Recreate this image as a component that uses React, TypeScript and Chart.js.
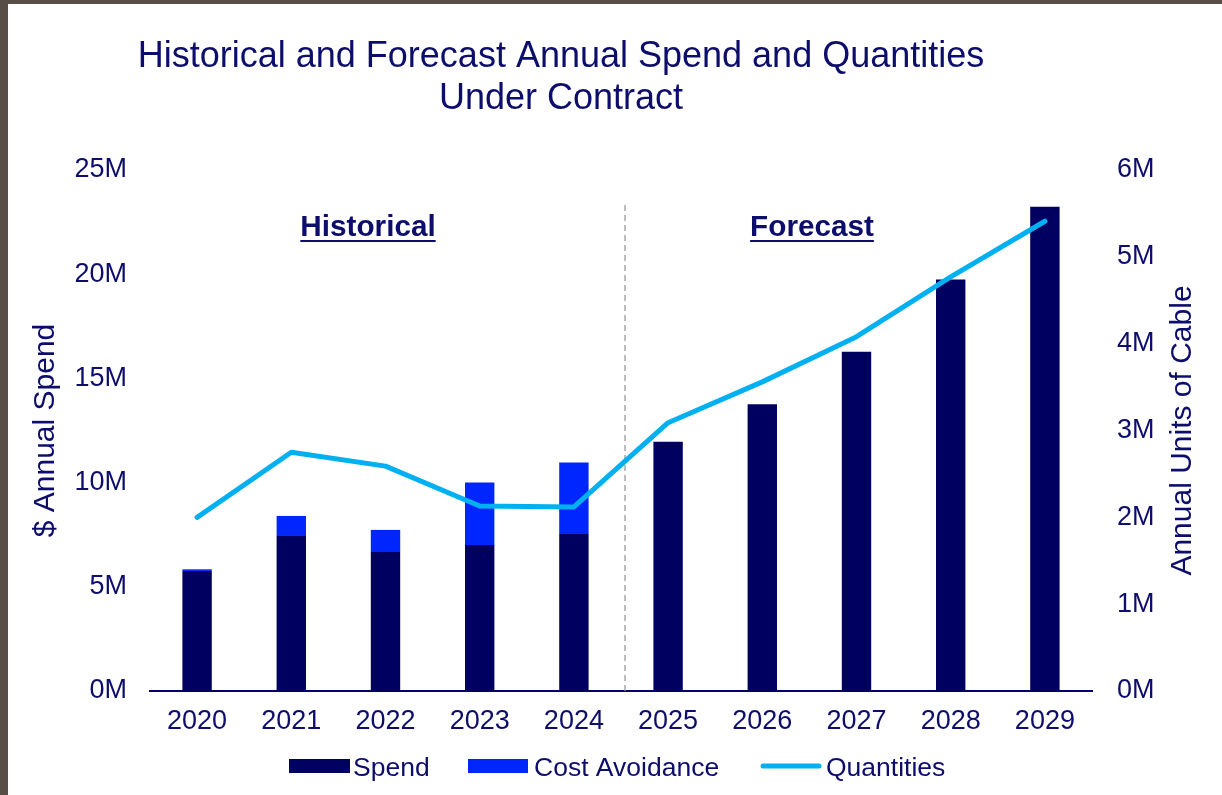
import React, { useEffect, useRef } from "react";
import { Chart, registerables } from "chart.js";

Chart.register(...registerables);

const years = ["2020", "2021", "2022", "2023", "2024", "2025", "2026", "2027", "2028", "2029"];
const spendM = [5.76, 7.47, 6.67, 7.0, 7.53, 11.96, 13.76, 16.28, 19.74, 23.24];
const costAvoidanceM = [0.08, 0.93, 1.06, 3.0, 3.44, null, null, null, null, null];
const quantitiesM = [2.0, 2.75, 2.59, 2.13, 2.12, 3.09, 3.56, 4.08, 4.77, 5.41];
const leftRange = [0, 25];
const leftStep = 5;
const rightRange = [0, 6];
const rightStep = 1;
const titleLines = ["Historical and Forecast Annual Spend and Quantities", "Under Contract"];
const sectionLabels = ["Historical", "Forecast"];
const seriesNames = ["Spend", "Cost Avoidance", "Quantities"];
const leftAxisTitle = "$ Annual Spend";
const rightAxisTitle = "Annual Units of Cable";

const NAVY_TEXT = "#0d0d6b";
const SPEND = "#000060";
const AVOID = "#0026FF";
const QTY = "#00B0F0";
const FONT = "'Liberation Sans', Arial, Helvetica, sans-serif";

const decorPlugin = {
  id: "decor",
  beforeDatasetsDraw(chart: any) {
    const { ctx, chartArea, scales } = chart;
    const x = scales.x;
    const xd = (x.getPixelForValue(4) + x.getPixelForValue(5)) / 2 + 4;
    ctx.save();
    ctx.strokeStyle = "#9a9a9a";
    ctx.lineWidth = 1.3;
    ctx.setLineDash([6, 4]);
    ctx.beginPath();
    ctx.moveTo(xd, 201);
    ctx.lineTo(xd, chartArea.bottom);
    ctx.stroke();
    ctx.restore();
  },
  afterDraw(chart: any) {
    const { ctx, chartArea } = chart;
    ctx.save();
    // title
    ctx.fillStyle = NAVY_TEXT;
    ctx.textAlign = "center";
    ctx.textBaseline = "alphabetic";
    ctx.font = `36px ${FONT}`;
    ctx.fillText(titleLines[0], 553, 63);
    ctx.fillText(titleLines[1], 553, 105);

    // right axis title (reads bottom-to-top like the left one)
    ctx.save();
    ctx.font = `30px ${FONT}`;
    ctx.textBaseline = "middle";
    ctx.translate(1175, (chartArea.top + chartArea.bottom) / 2);
    ctx.rotate(-Math.PI / 2);
    ctx.fillText(rightAxisTitle, 0, 0);
    ctx.restore();

    // section labels
    ctx.font = `bold 29.7px ${FONT}`;
    const secs = [
      { t: sectionLabels[0], cx: 368 - 8 },
      { t: sectionLabels[1], cx: 812 - 8 },
    ];
    for (const s of secs) {
      ctx.fillText(s.t, s.cx, 232);
      const w = ctx.measureText(s.t).width;
      ctx.fillRect(s.cx - w / 2, 236, w, 2);
    }

    // legend
    const ds = chart.data.datasets;
    ctx.textAlign = "left";
    ctx.font = `26.5px ${FONT}`;
    const cy = 762;
    const base = 771.5;
    ctx.fillStyle = ds[0].backgroundColor;
    ctx.fillRect(281, cy - 7, 61, 14);
    ctx.fillStyle = NAVY_TEXT;
    ctx.fillText(ds[0].label, 345, base);
    ctx.fillStyle = ds[1].backgroundColor;
    ctx.fillRect(460, cy - 7, 60, 14);
    ctx.fillStyle = NAVY_TEXT;
    ctx.fillText(ds[1].label, 526, base);
    ctx.strokeStyle = ds[2].borderColor;
    ctx.lineWidth = 5;
    ctx.lineCap = "round";
    ctx.beginPath();
    ctx.moveTo(755, cy);
    ctx.lineTo(811, cy);
    ctx.stroke();
    ctx.fillStyle = NAVY_TEXT;
    ctx.fillText(ds[2].label, 818, base);
    ctx.restore();
  },
};

export default function App() {
  const ref = useRef<HTMLCanvasElement | null>(null);

  useEffect(() => {
    if (!ref.current) return;
    Chart.defaults.font.family = FONT;
    const chart = new Chart(ref.current, {
      type: "bar",
      data: {
        labels: years,
        datasets: [
          {
            type: "bar",
            label: seriesNames[0],
            data: spendM,
            backgroundColor: SPEND,
            yAxisID: "y",
            stack: "s",
            order: 2,
            barPercentage: 0.312,
            categoryPercentage: 1,
          },
          {
            type: "bar",
            label: seriesNames[1],
            data: costAvoidanceM as any,
            backgroundColor: AVOID,
            yAxisID: "y",
            stack: "s",
            order: 2,
            barPercentage: 0.312,
            categoryPercentage: 1,
          },
          {
            type: "line",
            label: seriesNames[2],
            data: quantitiesM,
            borderColor: QTY,
            backgroundColor: QTY,
            borderWidth: 5,
            pointRadius: 0,
            tension: 0,
            borderCapStyle: "round",
            borderJoinStyle: "round",
            yAxisID: "y1",
            order: 0,
          } as any,
        ],
      },
      options: {
        animation: false,
        responsive: false,
        devicePixelRatio: 1,
        layout: { padding: { top: 166, left: 0, right: 0, bottom: 0 } },
        plugins: {
          legend: { display: false },
          title: { display: false },
          tooltip: { enabled: false },
        },
        scales: {
          x: {
            stacked: true,
            grid: { display: false, drawTicks: false },
            border: { display: true, color: "#000066", width: 2 },
            ticks: { color: NAVY_TEXT, font: { size: 27 }, padding: 14 },
            afterFit: (s: any) => {
              s.height = 104;
            },
          },
          y: {
            type: "linear",
            position: "left",
            stacked: true,
            min: leftRange[0],
            max: leftRange[1],
            grid: { display: false, drawTicks: false },
            border: { display: false },
            ticks: {
              stepSize: leftStep,
              color: NAVY_TEXT,
              font: { size: 27 },
              padding: 23,
              callback: (v: any) => `${v}M`,
            },
            title: {
              display: true,
              text: leftAxisTitle,
              color: NAVY_TEXT,
              font: { size: 30 },
              padding: 20,
            },
            afterFit: (s: any) => {
              s.width = 142;
            },
          },
          y1: {
            type: "linear",
            position: "right",
            min: rightRange[0],
            max: rightRange[1],
            grid: { display: false, drawTicks: false },
            border: { display: false },
            ticks: {
              stepSize: rightStep,
              color: NAVY_TEXT,
              font: { size: 27 },
              padding: 25,
              callback: (v: any) => `${v}M`,
            },
            title: { display: false },
            afterFit: (s: any) => {
              s.width = 130;
            },
          },
        },
      },
      plugins: [decorPlugin],
    });
    return () => chart.destroy();
  }, []);

  return (
    <div
      style={{
        position: "fixed",
        left: 0,
        top: 0,
        width: 1222,
        height: 795,
        background: "#584e48",
        overflow: "hidden",
      }}
    >
      <div
        style={{
          position: "absolute",
          left: 8,
          top: 4,
          width: 1214,
          height: 791,
          background: "#ffffff",
        }}
      >
        <canvas ref={ref} width={1214} height={791} style={{ display: "block", width: 1214, height: 791 }} />
      </div>
    </div>
  );
}
